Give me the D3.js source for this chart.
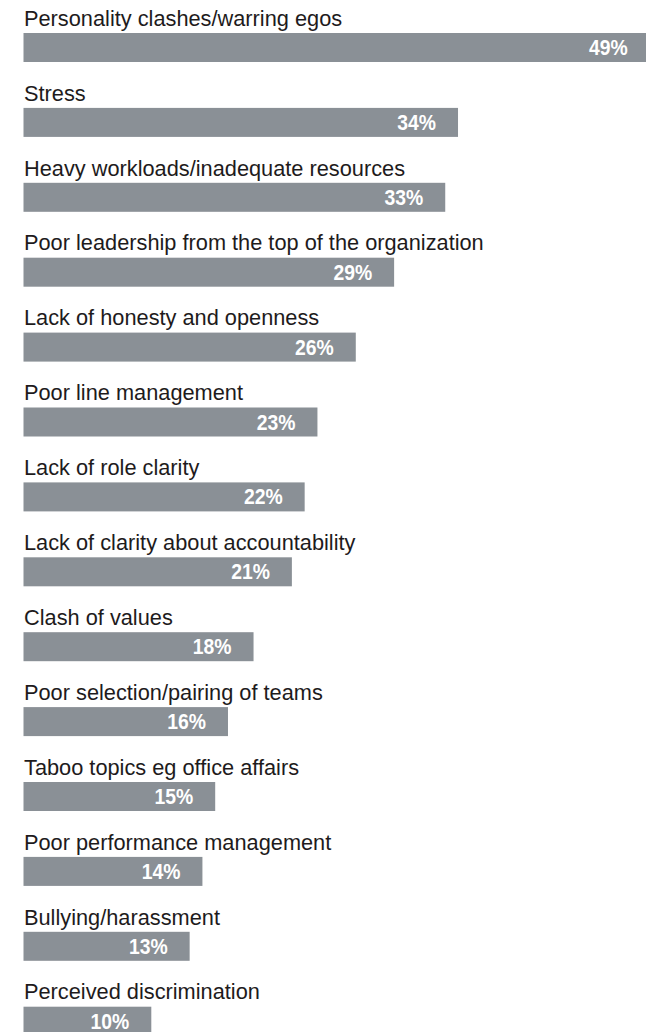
<!DOCTYPE html>
<html><head><meta charset="utf-8">
<script src="https://cdn.jsdelivr.net/npm/d3@7"></script>
<style>html,body{margin:0;padding:0;background:#fff;overflow:hidden}</style>
</head><body>
<svg id="chart" width="646" height="1032"></svg>
<script>
const categories = [
  "Personality clashes/warring egos",
  "Stress",
  "Heavy workloads/inadequate resources",
  "Poor leadership from the top of the organization",
  "Lack of honesty and openness",
  "Poor line management",
  "Lack of role clarity",
  "Lack of clarity about accountability",
  "Clash of values",
  "Poor selection/pairing of teams",
  "Taboo topics eg office affairs",
  "Poor performance management",
  "Bullying/harassment",
  "Perceived discrimination"
];
const values = [49, 34, 33, 29, 26, 23, 22, 21, 18, 16, 15, 14, 13, 10];

const svg = d3.select("#chart");
const x = d3.scaleLinear().domain([0, 10]).range([23.5, 151.3]);
const step = 74.9, firstTop = 33, barOff = 40;
const y = d3.scaleBand().domain(categories)
  .range([firstTop - barOff, firstTop - barOff + step * categories.length]);
const barH = 29;
const font = "'Liberation Sans','Arial',sans-serif";

const g = svg.selectAll("g.row").data(categories).join("g").attr("class", "row")
  .attr("transform", d => `translate(0,${y(d)})`);

g.append("text")
  .attr("transform", `translate(24,${barOff - 7.3}) scale(0.955,1)`)
  .attr("font-family", font).attr("font-size", 22.8)
  .attr("fill", "#1e1b1c")
  .text(d => d);

g.append("rect")
  .attr("x", x(0)).attr("y", barOff)
  .attr("width", (d, i) => x(values[i]) - x(0))
  .attr("height", barH)
  .attr("fill", "#8a9096");

g.append("text")
  .attr("transform", (d, i) => `translate(${x(values[i]) - 22},${barOff + 22}) scale(0.86,1)`)
  .attr("text-anchor", "end")
  .attr("font-family", font).attr("font-size", 22.5).attr("font-weight", "bold")
  .attr("fill", "#ffffff")
  .text((d, i) => values[i] + "%");
</script>
</body></html>
